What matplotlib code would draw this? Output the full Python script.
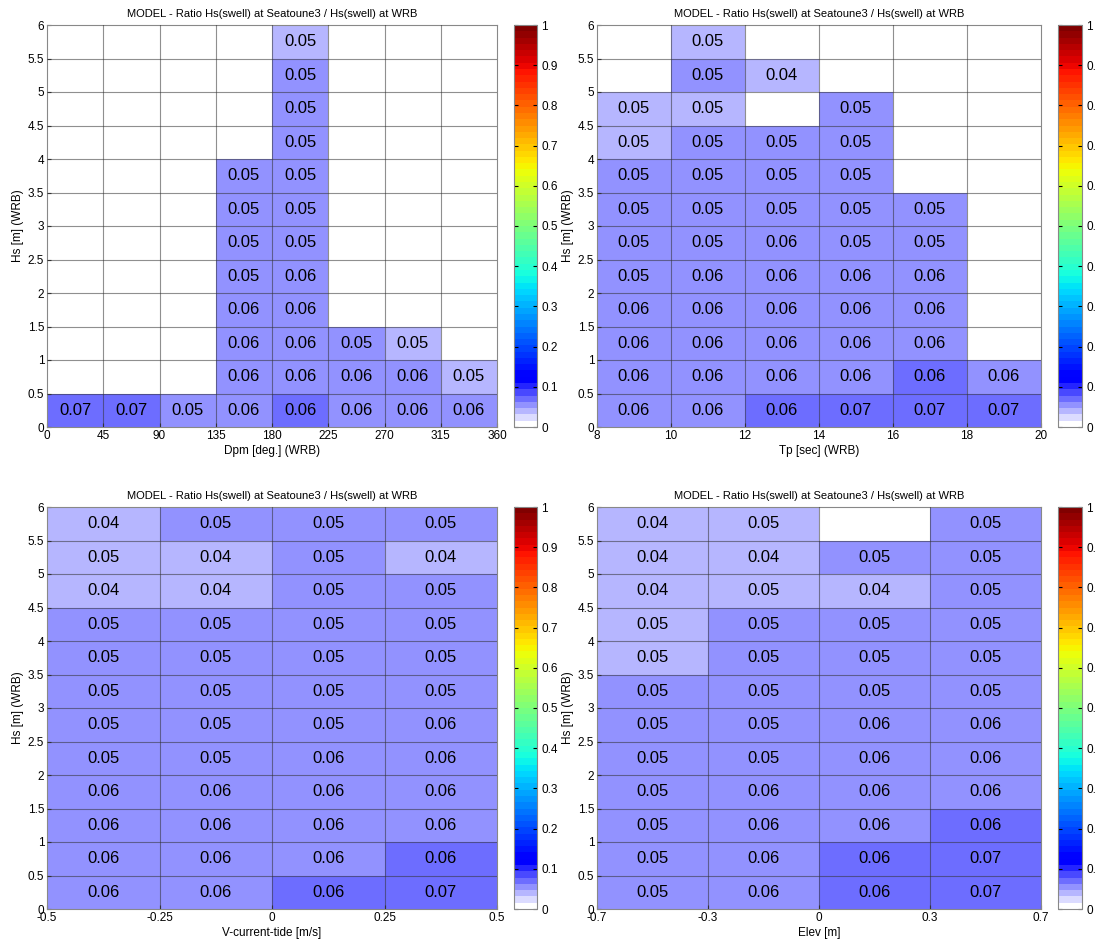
import numpy as np
import matplotlib
matplotlib.use("Agg")
import matplotlib.pyplot as plt
from matplotlib.colors import ListedColormap, Normalize

plt.rcParams['font.family'] = ['Liberation Sans', 'DejaVu Sans']

N = None
title = "MODEL - Ratio Hs(swell) at Seatoune3 / Hs(swell) at WRB"
hs_edges = [0, 0.5, 1, 1.5, 2, 2.5, 3, 3.5, 4, 4.5, 5, 5.5, 6]
hs_labels = ["0", "0.5", "1", "1.5", "2", "2.5", "3", "3.5", "4", "4.5", "5", "5.5", "6"]

# Panel 1: Dpm (rows bottom -> top)
dpm_labels = ["0", "45", "90", "135", "180", "225", "270", "315", "360"]
dpm_vals = [
    [0.068, 0.068, 0.052, 0.058, 0.063, 0.058, 0.058, 0.058],
    [N, N, N, 0.058, 0.058, 0.058, 0.058, 0.046],
    [N, N, N, 0.058, 0.058, 0.052, 0.046, N],
    [N, N, N, 0.058, 0.058, N, N, N],
    [N, N, N, 0.052, 0.058, N, N, N],
    [N, N, N, 0.052, 0.052, N, N, N],
    [N, N, N, 0.052, 0.052, N, N, N],
    [N, N, N, 0.052, 0.052, N, N, N],
    [N, N, N, N, 0.052, N, N, N],
    [N, N, N, N, 0.052, N, N, N],
    [N, N, N, N, 0.052, N, N, N],
    [N, N, N, N, 0.046, N, N, N],
]

# Panel 2: Tp
tp_labels = ["8", "10", "12", "14", "16", "18", "20"]
tp_vals = [
    [0.058, 0.058, 0.063, 0.068, 0.068, 0.068],
    [0.058, 0.058, 0.058, 0.058, 0.063, 0.058],
    [0.058, 0.058, 0.058, 0.058, 0.058, N],
    [0.058, 0.058, 0.058, 0.058, 0.058, N],
    [0.052, 0.058, 0.058, 0.058, 0.058, N],
    [0.052, 0.052, 0.058, 0.052, 0.052, N],
    [0.052, 0.052, 0.052, 0.052, 0.052, N],
    [0.052, 0.052, 0.052, 0.052, N, N],
    [0.046, 0.052, 0.052, 0.052, N, N],
    [0.046, 0.046, N, 0.052, N, N],
    [N, 0.052, 0.043, N, N, N],
    [N, 0.046, N, N, N, N],
]

# Panel 3: V-current-tide
vc_labels = ["-0.5", "-0.25", "0", "0.25", "0.5"]
vc_vals = [
    [0.058, 0.058, 0.063, 0.068],
    [0.058, 0.058, 0.058, 0.063],
    [0.058, 0.058, 0.058, 0.058],
    [0.058, 0.058, 0.058, 0.058],
    [0.052, 0.052, 0.058, 0.058],
    [0.052, 0.052, 0.052, 0.058],
    [0.052, 0.052, 0.052, 0.052],
    [0.052, 0.052, 0.052, 0.052],
    [0.052, 0.052, 0.052, 0.052],
    [0.043, 0.043, 0.052, 0.052],
    [0.046, 0.043, 0.052, 0.043],
    [0.043, 0.052, 0.052, 0.052],
]

# Panel 4: Elev
el_labels = ["-0.7", "-0.3", "0", "0.3", "0.7"]
el_vals = [
    [0.052, 0.058, 0.063, 0.068],
    [0.052, 0.058, 0.063, 0.068],
    [0.052, 0.058, 0.058, 0.063],
    [0.052, 0.058, 0.058, 0.058],
    [0.052, 0.052, 0.058, 0.058],
    [0.052, 0.052, 0.058, 0.058],
    [0.052, 0.052, 0.052, 0.052],
    [0.046, 0.052, 0.052, 0.052],
    [0.046, 0.052, 0.052, 0.052],
    [0.043, 0.046, 0.043, 0.052],
    [0.043, 0.043, 0.052, 0.052],
    [0.043, 0.046, N, 0.052],
]

xlabels = ["Dpm [deg.] (WRB)", "Tp [sec] (WRB)", "V-current-tide [m/s]", "Elev [m]"]

# colormap: 64-level jet with the lowest 7 levels ramping white -> blue
base = plt.get_cmap('jet', 64)(np.arange(64))
for i in range(7):
    f = 1 - i / 7.0
    base[i] = [f, f, 1.0, 1.0]
cmap = ListedColormap(base)
cmap.set_bad('white')
norm = Normalize(vmin=0, vmax=1)

fig = plt.figure(figsize=(10.95, 9.43), dpi=100)
W, H = 1095.0, 943.0


def pos(x0, x1, y0, y1):
    return [x0 / W, 1 - y1 / H, (x1 - x0) / W, (y1 - y0) / H]


panels = [
    (dpm_vals, dpm_labels, xlabels[0], pos(47, 497, 25, 427), pos(514, 537, 25, 427)),
    (tp_vals, tp_labels, xlabels[1], pos(597, 1041, 25, 427), pos(1058, 1082, 25, 427)),
    (vc_vals, vc_labels, xlabels[2], pos(47, 497, 507, 909), pos(514, 537, 507, 909)),
    (el_vals, el_labels, xlabels[3], pos(597, 1041, 507, 909), pos(1058, 1082, 507, 909)),
]

fs = 8.5
for vals, xl, xlab, apos, cpos in panels:
    ax = fig.add_axes(apos)
    arr = np.array([[np.nan if v is None else v for v in row] for row in vals], dtype=float)
    ncol = arr.shape[1]
    xe = np.arange(ncol + 1)
    ye = np.array(hs_edges)
    m = np.ma.masked_invalid(arr)
    ax.pcolormesh(xe, ye, m, cmap=cmap, norm=norm, edgecolor='none')
    for xv in xe[1:-1]:
        ax.axvline(xv, color='#333333', lw=0.8, alpha=0.55, zorder=3)
    for yv in ye[1:-1]:
        ax.axhline(yv, color='#333333', lw=0.8, alpha=0.55, zorder=3)
    for r in range(arr.shape[0]):
        for c in range(ncol):
            if not np.isnan(arr[r, c]):
                ax.text(c + 0.5, (ye[r] + ye[r + 1]) / 2, f"{arr[r, c]:.2f}",
                        ha='center', va='center', fontsize=12, color='black', zorder=4)
    ax.set_xlim(0, ncol)
    ax.set_ylim(0, 6)
    ax.set_xticks(xe)
    ax.set_xticklabels(xl)
    ax.set_yticks(hs_edges)
    ax.set_yticklabels(hs_labels)
    ax.tick_params(direction='in', length=3, labelsize=fs, pad=2, color='#333333')
    ax.set_title(title, fontsize=8, pad=6)
    ax.set_xlabel(xlab, fontsize=fs, labelpad=2)
    ax.set_ylabel("Hs [m] (WRB)", fontsize=fs, labelpad=3)
    for s in ax.spines.values():
        s.set_color('#888888')
        s.set_linewidth(0.8)

    cax = fig.add_axes(cpos)
    sm = plt.cm.ScalarMappable(cmap=cmap, norm=norm)
    cb = fig.colorbar(sm, cax=cax)
    cb.set_ticks([0, 0.1, 0.2, 0.3, 0.4, 0.5, 0.6, 0.7, 0.8, 0.9, 1])
    cb.set_ticklabels(["0", "0.1", "0.2", "0.3", "0.4", "0.5", "0.6", "0.7", "0.8", "0.9", "1"])
    cax.tick_params(direction='in', length=3, labelsize=fs, pad=3, left=True, right=True)
    cb.outline.set_edgecolor('#888888')
    cb.outline.set_linewidth(0.8)

fig.savefig("out.png", dpi=100)
